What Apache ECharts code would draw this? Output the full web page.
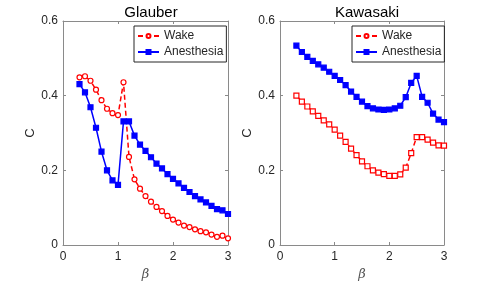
<!DOCTYPE html>
<html><head><meta charset="utf-8">
<script src="https://cdn.jsdelivr.net/npm/echarts@6/dist/echarts.min.js"></script>
<style>html,body{margin:0;padding:0;background:#fff}#c{width:491px;height:286px}</style>
</head><body><div id="c"></div>
<script>
const beta = [0.3,0.4,0.5,0.6,0.7,0.8,0.9,1.0,1.1,1.2,1.3,1.4,1.5,1.6,1.7,1.8,1.9,2.0,2.1,2.2,2.3,2.4,2.5,2.6,2.7,2.8,2.9,3.0];
const glauberWake = [0.449,0.452,0.440,0.416,0.388,0.365,0.353,0.348,0.436,0.236,0.176,0.151,0.131,0.116,0.102,0.091,0.078,0.068,0.060,0.052,0.048,0.042,0.037,0.034,0.028,0.022,0.025,0.018];
const glauberAnes = [0.431,0.409,0.369,0.314,0.250,0.200,0.173,0.161,0.331,0.331,0.293,0.269,0.252,0.235,0.218,0.205,0.190,0.177,0.165,0.153,0.142,0.131,0.122,0.114,0.105,0.096,0.093,0.083];
const kawaWake = [0.400,0.384,0.371,0.358,0.346,0.334,0.323,0.309,0.293,0.276,0.258,0.241,0.224,0.211,0.200,0.194,0.190,0.185,0.185,0.189,0.207,0.246,0.289,0.289,0.282,0.274,0.267,0.266];
const kawaAnes = [0.534,0.517,0.504,0.493,0.484,0.475,0.464,0.453,0.442,0.428,0.411,0.397,0.384,0.372,0.366,0.363,0.362,0.363,0.366,0.373,0.396,0.434,0.453,0.397,0.381,0.352,0.336,0.329];
const xTicks = [0,1,2,3];
const yTicks = [0,0.2,0.4,0.6];
const titles = ['Glauber','Kawasaki'];
const seriesNames = ['Wake','Anesthesia'];

const pair = arr => beta.map((b,i)=>[b,arr[i]]);
const axisCol = '#8a8a8a', textCol = '#262626';
const font = 'Liberation Sans, Arial, Helvetica, sans-serif';

const grids = [
  {left:63, top:21, width:165, height:225},
  {left:280, top:21, width:164, height:225}
];
const xAxes = [], yAxes = [];
[0,1].forEach(g=>{
  xAxes.push({type:'value', gridIndex:g, min:xTicks[0], max:xTicks[xTicks.length-1], interval:1, position:'bottom',
    name:'β', nameLocation:'middle', nameGap:23,
    nameTextStyle:{fontStyle:'italic', fontSize:13, color:'#555', fontFamily:'DejaVu Serif, serif'},
    axisLine:{show:true, onZero:false, lineStyle:{color:axisCol, width:1}},
    axisTick:{show:true, inside:true, length:3, lineStyle:{color:axisCol}},
    axisLabel:{color:textCol, fontSize:12, fontFamily:font, margin:6},
    splitLine:{show:false}});
  xAxes.push({type:'value', gridIndex:g, min:xTicks[0], max:xTicks[xTicks.length-1], interval:1, position:'top',
    axisLine:{show:true, onZero:false, lineStyle:{color:axisCol, width:1}},
    axisTick:{show:true, inside:true, length:3, lineStyle:{color:axisCol}},
    axisLabel:{show:false}, splitLine:{show:false}});
  yAxes.push({type:'value', gridIndex:g, min:yTicks[0], max:yTicks[yTicks.length-1], interval:0.2, position:'left',
    name:'C', nameLocation:'middle', nameGap:26, nameRotate:90,
    nameTextStyle:{fontSize:13, color:textCol, fontFamily:font},
    axisLine:{show:true, onZero:false, lineStyle:{color:axisCol, width:1}},
    axisTick:{show:true, inside:true, length:3, lineStyle:{color:axisCol}},
    axisLabel:{color:textCol, fontSize:12, fontFamily:font, margin:5,
      formatter:v=> v===0?'0':String(Math.round(v*10)/10)},
    splitLine:{show:false}});
  yAxes.push({type:'value', gridIndex:g, min:yTicks[0], max:yTicks[yTicks.length-1], interval:0.2, position:'right',
    axisLine:{show:true, onZero:false, lineStyle:{color:axisCol, width:1}},
    axisTick:{show:true, inside:true, length:3, lineStyle:{color:axisCol}},
    axisLabel:{show:false}, splitLine:{show:false}});
});

const mk = (id, name, data, g, color, dashed, symbol, filled) => ({
  id, type:'line', name, data:pair(data), xAxisIndex:g*2, yAxisIndex:g*2,
  symbol, symbolSize:5, showSymbol:true,
  lineStyle:{color, width:1.5, type: dashed?[5,3]:'solid'},
  itemStyle:{color: filled?color:'#fff', borderColor:color, borderWidth:1.2},
  emphasis:{disabled:true}, animation:false, legendHoverLink:false
});

const series = [
  mk('gw', seriesNames[0], glauberWake, 0, '#ff0000', true, 'circle', false),
  mk('ga', seriesNames[1], glauberAnes, 0, '#0000ff', false, 'rect', true),
  mk('kw', seriesNames[0], kawaWake, 1, '#ff0000', true, 'rect', false),
  mk('ka', seriesNames[1], kawaAnes, 1, '#0000ff', false, 'rect', true)
];

const legendBase = {
  orient:'vertical', top:26, data:seriesNames, borderColor:'#262626', borderWidth:1,
  padding:[3,3,3,3], itemGap:2, itemWidth:21, itemHeight:5, selectedMode:false,
  textStyle:{fontSize:12, color:textCol, fontFamily:font, lineHeight:14}
};

const option = {
  animation:false,
  title:[
    {text:titles[0], left:146, top:0, textAlign:'center', textStyle:{fontSize:15, fontWeight:'normal', color:'#000', fontFamily:font}},
    {text:titles[1], left:362, top:0, textAlign:'center', textStyle:{fontSize:15, fontWeight:'normal', color:'#000', fontFamily:font}}
  ],
  grid:grids, xAxis:xAxes, yAxis:yAxes, series,
  legend:[
    Object.assign({}, legendBase, {left:134, seriesIndex:[0,1]}),
    Object.assign({}, legendBase, {left:352, seriesIndex:[2,3]})
  ]
};
const chart = echarts.init(document.getElementById('c'), null, {renderer:'canvas'});
chart.setOption(option);
</script></body></html>
